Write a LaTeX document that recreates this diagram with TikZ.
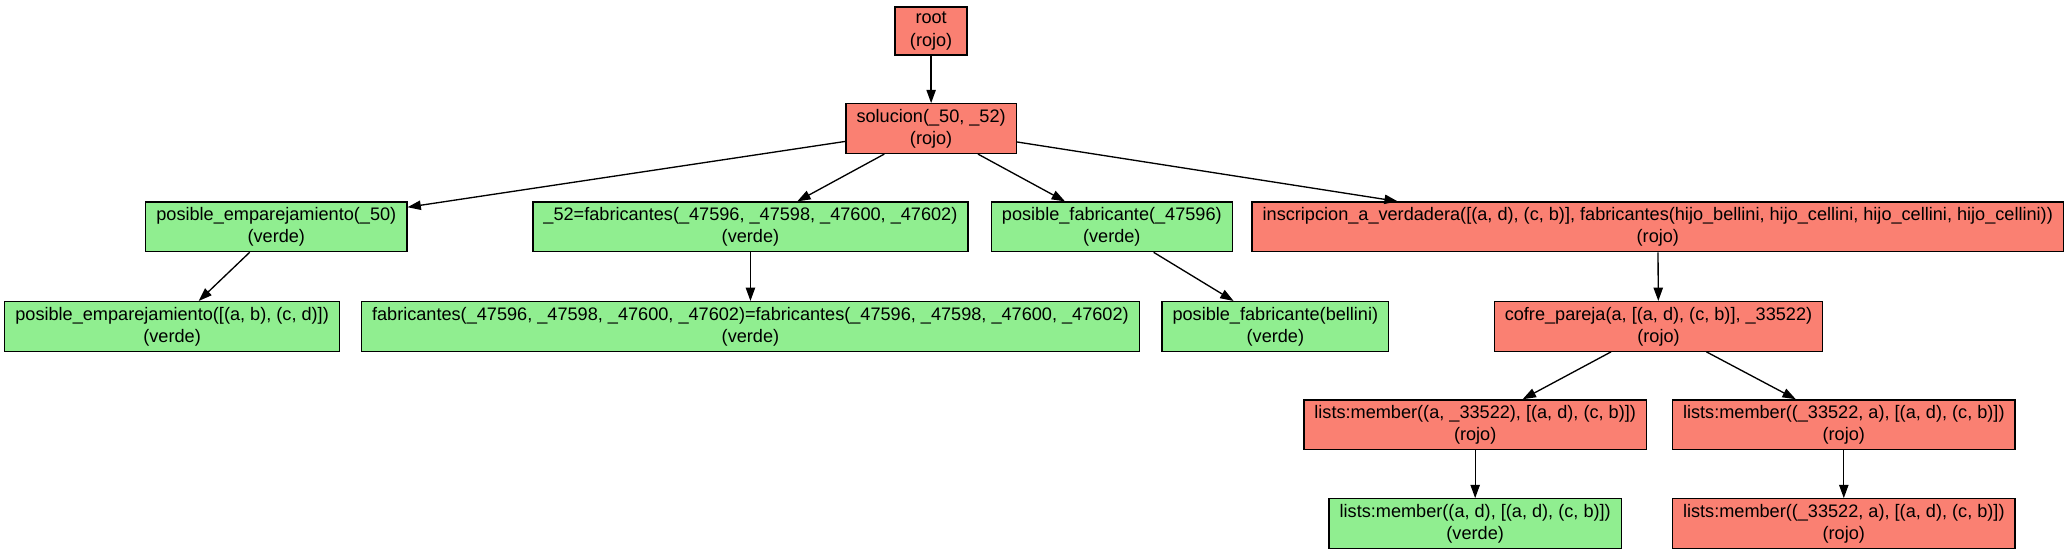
\documentclass[tikz,border=0pt]{standalone}
\usepackage{fontspec}
\setmainfont{Liberation Sans}
\usetikzlibrary{arrows.meta,calc}
\definecolor{salmon}{HTML}{FA8072}
\definecolor{verdeclaro}{HTML}{90EE90}
\tikzset{
  nodo/.style={draw=black, line width=1pt, rectangle, align=center, minimum width=54pt, minimum height=36pt, inner xsep=7.92pt, inner ysep=3.96pt, font=\fontsize{13.6}{16.6}\selectfont},
  rojo/.style={nodo, fill=salmon},
  verde/.style={nodo, fill=verdeclaro},
  flecha/.style={line width=1pt, -{Triangle[length=10pt,width=7pt]}}
}
\begin{document}
\begin{tikzpicture}[x=0.989pt, y=-0.989pt]
\useasboundingbox (0,0) rectangle (1568,420.8);
% nivel 0 y 1
\node[rojo] (root) at (706,23.5) {root\\(rojo)};
\node[rojo] (sol) at (706,97.5) {solucion(\_50, \_52)\\(rojo)};
% nivel 2
\node[verde] (pe50) at (209.5,172) {posible\_emparejamiento(\_50)\\(verde)};
\node[verde] (fab52) at (569,172) {\_52=fabricantes(\_47596, \_47598, \_47600, \_47602)\\(verde)};
\node[verde] (pf) at (843,172) {posible\_fabricante(\_47596)\\(verde)};
\node[rojo] (insc) at (1257,172) {inscripcion\_a\_verdadera([(a, d), (c, b)], fabricantes(hijo\_bellini, hijo\_cellini, hijo\_cellini, hijo\_cellini))\\(rojo)};
% nivel 3
\node[verde] (pe) at (130.5,247.5) {posible\_emparejamiento([(a, b), (c, d)])\\(verde)};
\node[verde] (fabeq) at (569,247.5) {fabricantes(\_47596, \_47598, \_47600, \_47602)=fabricantes(\_47596, \_47598, \_47600, \_47602)\\(verde)};
\node[verde] (pfb) at (967,247.5) {posible\_fabricante(bellini)\\(verde)};
\node[rojo] (cofre) at (1257.5,247.5) {cofre\_pareja(a, [(a, d), (c, b)], \_33522)\\(rojo)};
% nivel 4 y 5
\node[rojo] (lm1) at (1118.5,322) {lists:member((a, \_33522), [(a, d), (c, b)])\\(rojo)};
\node[rojo] (lm2) at (1398,322) {lists:member((\_33522, a), [(a, d), (c, b)])\\(rojo)};
\node[verde] (lm3) at (1118.5,397) {lists:member((a, d), [(a, d), (c, b)])\\(verde)};
\node[rojo] (lm4) at (1398,397) {lists:member((\_33522, a), [(a, d), (c, b)])\\(rojo)};
\coordinate (inscin) at ($(insc.north west)!0.18!(insc.north east)$); % punta de la flecha hacia insc
% aristas
\draw[flecha] (root) -- (sol);
\draw[flecha] (sol) -- (pe50);
\draw[flecha] (sol) -- (fab52);
\draw[flecha] (sol) -- (pf);
\draw[flecha] (sol) -- (inscin);
\draw[flecha] (pe50) -- (pe);
\draw[flecha] (fab52) -- (fabeq);
\draw[flecha] (pf) -- (pfb);
\draw[flecha] (insc) -- (cofre);
\draw[flecha] (cofre) -- (lm1);
\draw[flecha] (cofre) -- (lm2);
\draw[flecha] (lm1) -- (lm3);
\draw[flecha] (lm2) -- (lm4);
\end{tikzpicture}
\end{document}
